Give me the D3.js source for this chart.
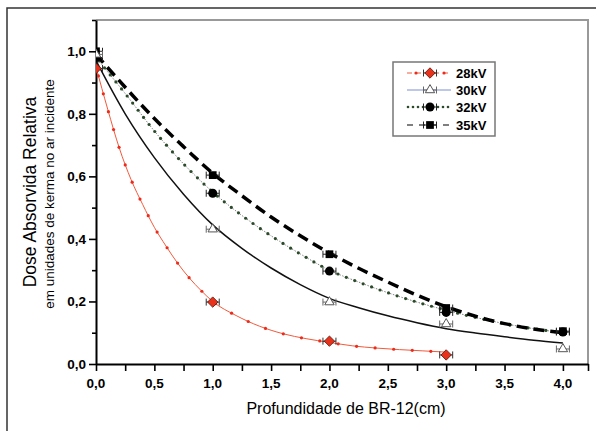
<!DOCTYPE html>
<html>
<head>
<meta charset="utf-8">
<script src="https://cdn.jsdelivr.net/npm/d3@7"></script>
<style>
  body { margin: 0; background: #fff; }
  svg { display: block; font-family: "Liberation Sans", Arial, sans-serif; }
</style>
</head>
<body>
<div id="chart-area"></div>
<script>
// measured points
var depth = [0, 1, 2, 3, 4];
var dose28 = [0.945, 0.198, 0.073, 0.029];
var dose30 = [0.99, 0.431, 0.198, 0.128, 0.048];
var dose32 = [0.98, 0.546, 0.297, 0.165, 0.102];
var dose35 = [1.0, 0.604, 0.351, 0.179, 0.105];

// fitted curves
var fitX28 = [0, 0.1, 0.2, 0.3, 0.4, 0.5, 0.6, 0.7, 0.8, 0.9, 1.0, 1.2, 1.4, 1.6, 1.8, 2.0, 2.2, 2.4, 2.6, 2.8, 3.0];
var fit28 = [0.95, 0.815, 0.69, 0.59, 0.51, 0.437, 0.377, 0.322, 0.275, 0.235, 0.2, 0.155, 0.121, 0.097, 0.081, 0.069, 0.058, 0.051, 0.046, 0.042, 0.038];
var fitX = [0, 0.25, 0.5, 0.75, 1, 1.25, 1.5, 1.75, 2, 2.25, 2.5, 2.75, 3, 3.25, 3.5, 3.75, 4];
var fit30 = [0.97, 0.80, 0.66, 0.543, 0.445, 0.37, 0.307, 0.254, 0.21, 0.18, 0.154, 0.132, 0.113, 0.099, 0.087, 0.076, 0.067];
var fit32 = [0.98, 0.865, 0.745, 0.64, 0.55, 0.475, 0.41, 0.352, 0.30, 0.262, 0.228, 0.198, 0.172, 0.149, 0.129, 0.113, 0.10];
var fit35 = [0.99, 0.885, 0.785, 0.695, 0.61, 0.538, 0.47, 0.41, 0.355, 0.306, 0.262, 0.22, 0.183, 0.153, 0.129, 0.112, 0.10];

var xMajor = [0, 0.5, 1, 1.5, 2, 2.5, 3, 3.5, 4];
var yMajor = [0, 0.2, 0.4, 0.6, 0.8, 1.0];
var seriesNames = ["28kV", "30kV", "32kV", "35kV"];

drawChart();

function drawChart(){
    var fmt = function(v){ return d3.format(".1f")(v).replace(".", ","); };

    var W = 596, H = 431;
    var mLeft = 96, mRight = 588, mTop = 20, mBottom = 364;

    var svg = d3.select("#chart-area").append("svg")
        .attr("width", W).attr("height", H);

    // outer frame
    svg.append("rect")
        .attr("x", 7).attr("y", 8).attr("width", 620).attr("height", 500)
        .attr("fill", "none").attr("stroke", "#333").attr("stroke-width", 1.5);

    var x = d3.scaleLinear().domain([0, 4.215]).range([mLeft, mRight]);
    var y = d3.scaleLinear().domain([0, 1.1]).range([mBottom, mTop]);

    svg.append("defs").append("clipPath").attr("id", "clip")
        .append("rect").attr("x", mLeft).attr("y", mTop)
        .attr("width", mRight - mLeft).attr("height", mBottom - mTop);

    // top / right frame (grey)
    svg.append("path")
        .attr("d", "M" + mLeft + "," + mTop + "H" + mRight + "V" + mBottom)
        .attr("fill", "none").attr("stroke", "#999").attr("stroke-width", 2);

    // x axis
    var xTicks = d3.range(0, 4.01, 0.25).concat([4.215]);
    svg.append("g").attr("transform", "translate(0," + mBottom + ")")
        .call(d3.axisBottom(x).tickValues(xTicks).tickSize(7).tickSizeOuter(0).tickFormat(""))
        .call(function(g){
            g.select(".domain").attr("stroke", "#000").attr("stroke-width", 2);
            g.selectAll(".tick line").attr("stroke", "#000").attr("stroke-width", 1.6);
        });
    svg.append("g").selectAll("text").data(xMajor).enter().append("text")
        .attr("x", function(d){ return x(d); })
        .attr("y", mBottom + 24)
        .attr("text-anchor", "middle")
        .attr("font-size", "13.5px").attr("font-weight", "bold")
        .text(fmt);

    // y axis
    var yTicks = d3.range(0, 1.11, 0.1);
    svg.append("g").attr("transform", "translate(" + mLeft + ",0)")
        .call(d3.axisLeft(y).tickValues(yTicks).tickSize(6).tickSizeOuter(0).tickFormat(""))
        .call(function(g){
            g.select(".domain").attr("stroke", "#000").attr("stroke-width", 2);
            g.selectAll(".tick line").attr("stroke", "#000").attr("stroke-width", 1.6)
                .attr("x2", function(d){ return Math.round(d * 10) % 2 == 0 ? -7 : -4; });
        });
    svg.append("g").selectAll("text").data(yMajor).enter().append("text")
        .attr("x", mLeft - 10)
        .attr("y", function(d){ return y(d) + 5; })
        .attr("text-anchor", "end")
        .attr("font-size", "13.5px").attr("font-weight", "bold")
        .text(fmt);

    // axis titles
    svg.append("text")
        .attr("transform", "translate(36,192) rotate(-90)")
        .attr("text-anchor", "middle").attr("font-size", "17.5px")
        .text("Dose Absorvida Relativa");
    svg.append("text")
        .attr("transform", "translate(54,194) rotate(-90)")
        .attr("text-anchor", "middle").attr("font-size", "13.5px")
        .text("em unidades de kerma no ar incidente");
    svg.append("text")
        .attr("x", 346).attr("y", 414)
        .attr("text-anchor", "middle").attr("font-size", "16px")
        .text("Profundidade de BR-12(cm)");

    var plot = svg.append("g").attr("clip-path", "url(#clip)");

    var line = d3.line()
        .x(function(d){ return x(d[0]); })
        .y(function(d){ return y(d[1]); })
        .curve(d3.curveMonotoneX);

    function pairs(xs, ys){ return xs.map(function(v, i){ return [v, ys[i]]; }); }

    function dotsAlong(path, step, r, color){
        var node = path.node();
        var len = node.getTotalLength();
        var pts = d3.range(step / 2, len, step).map(function(l){ return node.getPointAtLength(l); });
        plot.append("g").selectAll("circle").data(pts).enter().append("circle")
            .attr("cx", function(p){ return p.x; })
            .attr("cy", function(p){ return p.y; })
            .attr("r", r).attr("fill", color);
    }

    // 28kV fit
    var p28 = plot.append("path").datum(pairs(fitX28, fit28))
        .attr("d", line).attr("fill", "none")
        .attr("stroke", "#f25a3c").attr("stroke-width", 1);
    dotsAlong(p28, 18.6, 1.6, "#ee2a1a");

    // 30kV fit
    plot.append("path").datum(pairs(fitX, fit30))
        .attr("d", line).attr("fill", "none")
        .attr("stroke", "#111").attr("stroke-width", 1.5);

    // 32kV fit
    var p32 = plot.append("path").datum(pairs(fitX, fit32))
        .attr("d", line).attr("fill", "none")
        .attr("stroke", "#666").attr("stroke-width", 0.8).attr("stroke-dasharray", "1.5,1.5");
    dotsAlong(p32, 9, 1.6, "#2a4a2a");

    // 35kV fit
    plot.append("path").datum(pairs(fitX, fit35))
        .attr("d", line).attr("fill", "none")
        .attr("stroke", "#000").attr("stroke-width", 3.5).attr("stroke-dasharray", "11,6");

    // markers
    function errBar(g, cx, cy, color){
        g.append("path")
            .attr("d", "M" + (cx - 6.5) + "," + (cy - 3.5) + "V" + (cy + 3.5) +
                       "M" + (cx + 6.5) + "," + (cy - 3.5) + "V" + (cy + 3.5) +
                       "M" + (cx - 6.5) + "," + cy + "H" + (cx + 6.5))
            .attr("fill", "none").attr("stroke", color).attr("stroke-width", 1);
    }
    function marker(g, kind, cx, cy){
        if(kind == 0){
            errBar(g, cx, cy, "#333");
            g.append("path").attr("d", d3.symbol().type(d3.symbolSquare).size(54)())
                .attr("transform", "translate(" + cx + "," + cy + ") rotate(45)")
                .attr("fill", "#e8321c").attr("stroke", "#5a1a10").attr("stroke-width", 0.8);
        } else if(kind == 1){
            errBar(g, cx, cy, "#666");
            g.append("path").attr("d", d3.symbol().type(d3.symbolTriangle).size(38)())
                .attr("transform", "translate(" + cx + "," + cy + ")")
                .attr("fill", "#fff").attr("stroke", "#555").attr("stroke-width", 1);
        } else if(kind == 2){
            errBar(g, cx, cy, "#222");
            g.append("circle").attr("cx", cx).attr("cy", cy).attr("r", 4.5).attr("fill", "#000");
        } else {
            errBar(g, cx, cy, "#222");
            g.append("path").attr("d", d3.symbol().type(d3.symbolSquare).size(60)())
                .attr("transform", "translate(" + cx + "," + cy + ")")
                .attr("fill", "#000");
        }
    }

    var allDose = [dose28, dose30, dose32, dose35];
    var mk = plot.append("g");
    [3, 2, 1, 0].forEach(function(k){
        allDose[k].forEach(function(v, i){
            marker(mk, k, x(depth[i]), y(v));
        });
    });

    // legend
    var lg = svg.append("g");
    lg.append("rect").attr("x", 393).attr("y", 62).attr("width", 102).attr("height", 74)
        .attr("fill", "#fff").attr("stroke", "#777").attr("stroke-width", 1.5);
    var rowY = [73, 90, 107, 125];
    rowY.forEach(function(ry, k){
        if(k == 0){
            lg.append("line").attr("x1", 407).attr("x2", 451).attr("y1", ry).attr("y2", ry)
                .attr("stroke", "#f25a3c").attr("stroke-width", 1).attr("stroke-dasharray", "5,4");
            [416, 444].forEach(function(px){
                lg.append("circle").attr("cx", px).attr("cy", ry).attr("r", 1.6).attr("fill", "#ee2a1a");
            });
        } else if(k == 1){
            lg.append("line").attr("x1", 407).attr("x2", 451).attr("y1", ry).attr("y2", ry)
                .attr("stroke", "#7f8fd0").attr("stroke-width", 1);
        } else if(k == 2){
            d3.range(408, 452, 5).forEach(function(px){
                lg.append("circle").attr("cx", px).attr("cy", ry).attr("r", 1.3).attr("fill", "#2a4a2a");
            });
        } else {
            lg.append("line").attr("x1", 407).attr("x2", 451).attr("y1", ry).attr("y2", ry)
                .attr("stroke", "#000").attr("stroke-width", 1.2).attr("stroke-dasharray", "6,6");
        }
        marker(lg, k, 430, ry);
        lg.append("text").attr("x", 456).attr("y", ry + 5)
            .attr("font-size", "13px").attr("font-weight", "bold")
            .text(seriesNames[k]);
    });
}
</script>
</body>
</html>
